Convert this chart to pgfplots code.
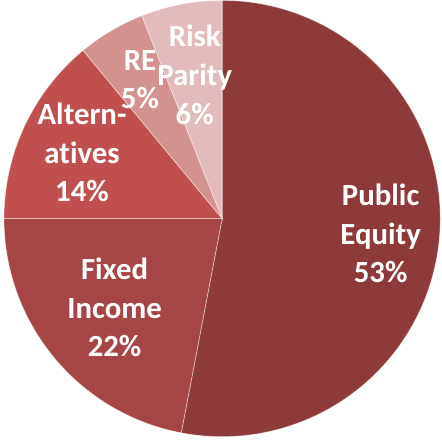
\documentclass[border=0pt]{standalone}
\usepackage{pgfplots}
\usepackage{pgfplotstable}
\pgfplotsset{compat=1.18}
\usepackage{fontspec}
\setmainfont{Carlito}[Ligatures={NoCommon,NoContextual}]
\definecolor{c0}{HTML}{8E3A3A}
\definecolor{c1}{HTML}{A64545}
\definecolor{c2}{HTML}{C0504D}
\definecolor{c3}{HTML}{D39190}
\definecolor{c4}{HTML}{E2BCBC}
\pgfplotstableread{
value labr
53 0.73
22 0.64
14 0.71
5 0.74
6 0.67
}\pietable
\expandafter\def\csname lab0\endcsname{Public\\Equity}
\expandafter\def\csname lab1\endcsname{Fixed\\Income}
\expandafter\def\csname lab2\endcsname{Altern-\\atives}
\expandafter\def\csname lab3\endcsname{RE}
\expandafter\def\csname lab4\endcsname{Risk\\Parity}
\begin{document}
\begin{tikzpicture}
\begin{axis}[hide axis, scale only axis, x=219bp, y=219bp,
  xmin=-1.0183, xmax=1.0046, ymin=-1.0046, ymax=1.0, clip=false]
\path (rel axis cs:0,0) rectangle (rel axis cs:1,1);
\gdef\cum{0}
\pgfplotsforeachungrouped \i in {0,...,4}{%
  \pgfplotstablegetelem{\i}{value}\of\pietable \let\v\pgfplotsretval
  \pgfmathsetmacro\a{90-3.6*\cum}%
  \pgfmathsetmacro\b{90-3.6*(\cum+\v)}%
  \edef\temp{\noexpand\fill[c\i, draw=white, draw opacity=0.45, line width=0.8bp]
    (axis cs:0,0) -- (axis cs:{cos(\a)},{sin(\a)})
    arc[start angle=\a, end angle=\b, radius=219bp] -- cycle;}%
  \temp
  \pgfmathsetmacro\cum{\cum+\v}%
  \xdef\cum{\cum}%
}
\gdef\cum{0}
\pgfplotsforeachungrouped \i in {0,...,4}{%
  \pgfplotstablegetelem{\i}{value}\of\pietable \let\v\pgfplotsretval
  \pgfplotstablegetelem{\i}{labr}\of\pietable \let\r\pgfplotsretval
  \pgfmathsetmacro\m{90-3.6*(\cum+\v/2)}%
  \edef\temp{\noexpand\node[align=center, text=white, inner sep=0pt,
    font=\noexpand\bfseries\noexpand\fontsize{31}{39}\noexpand\selectfont]
    at (axis cs:{\r*cos(\m)},{\r*sin(\m)})
    {\noexpand\csname lab\i\noexpand\endcsname\noexpand\\\v\noexpand\%};}%
  \temp
  \pgfmathsetmacro\cum{\cum+\v}%
  \xdef\cum{\cum}%
}
\end{axis}
\end{tikzpicture}
\end{document}
